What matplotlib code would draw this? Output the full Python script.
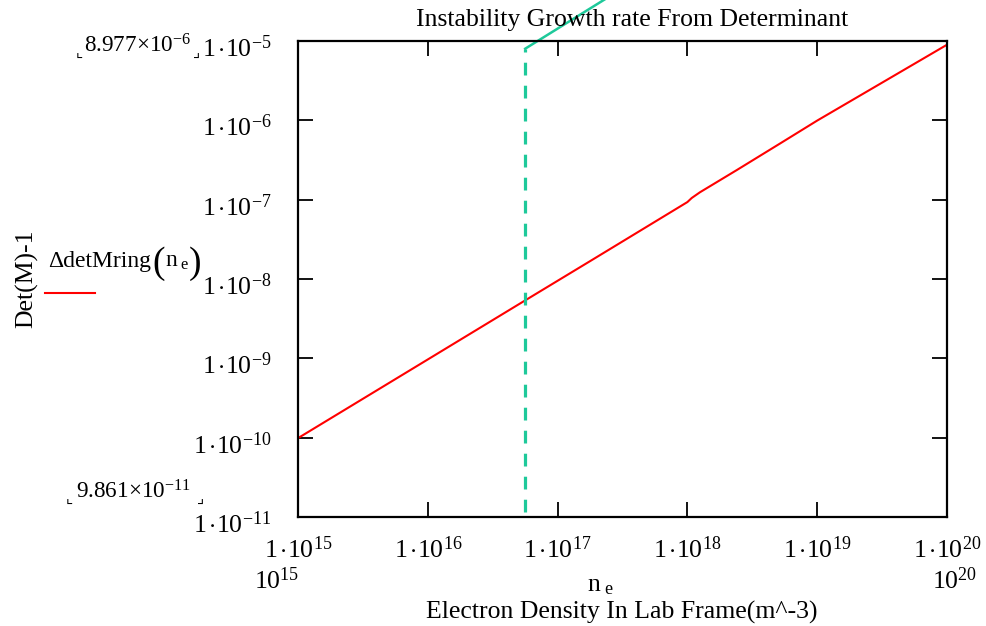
import matplotlib
matplotlib.use('Agg')
import matplotlib.pyplot as plt
import matplotlib.transforms as mtransforms

plt.rcParams['font.family'] = ['Liberation Serif', 'DejaVu Serif']
plt.rcParams['mathtext.fontset'] = 'custom'
plt.rcParams['mathtext.rm'] = 'Liberation Serif'
plt.rcParams['mathtext.it'] = 'Liberation Serif:italic'
plt.rcParams['mathtext.bf'] = 'Liberation Serif:bold'

# curve
n_e = [1e15, 1e16, 5.6e16, 1.78e17, 1e18, 1.08e18, 1.25e18, 2.4e18, 5.2e18, 1e19, 2.55e19, 1e20]
det_m = [9.861e-11, 9.68e-10, 5.35e-9, 1.68e-8, 9.33e-8, 1.05e-7, 1.24e-7, 2.36e-7,
         5.13e-7, 9.93e-7, 2.43e-6, 8.977e-6]

# marker trace (dashed vertical, then solid leaving the plot)
mark_x = [5.63e16, 5.63e16]
mark_y = [1.15e-11, 8.0e-6]
mark2_x = [5.63e16, 1e18]
mark2_y = [8.0e-6, 1.48e-4]

x_ticks = [1e15, 1e16, 1e17, 1e18, 1e19, 1e20]
x_labels = [r'$\mathrm{1\,{\cdot}10^{%d}}$' % e for e in range(15, 21)]
y_ticks = [1e-11, 1e-10, 1e-9, 1e-8, 1e-7, 1e-6, 1e-5]
y_labels = [r'$\mathrm{1\,{\cdot}10^{-%d}}$' % e for e in range(11, 4, -1)]

fs = 18.5
red = '#ff0000'
cyan = '#1ec99a'

fig = plt.figure(figsize=(9.86, 6.26), dpi=100)
ax = fig.add_axes([298/986, 1 - 517/626, 649/986, 476/626])

ax.plot(n_e, det_m, color=red, lw=1.5)
ax.plot(mark_x, mark_y, color=cyan, lw=2.3, dashes=(4, 3.2))
ax.plot(mark2_x, mark2_y, color=cyan, lw=1.8, clip_on=False)

ax.set_xscale('log')
ax.set_yscale('log')
ax.set_xlim(1e15, 1e20)
ax.set_ylim(1e-11, 1e-5)
ax.set_xticks(x_ticks, x_labels)
ax.set_yticks(y_ticks, y_labels)
ax.minorticks_off()
ax.tick_params(which='major', direction='in', length=11, width=1.3,
               top=True, right=True, labelsize=fs, color='black')
ax.tick_params(axis='x', pad=14)
ax.tick_params(axis='y', pad=19)
for s in ax.spines.values():
    s.set_linewidth(1.6)

shift = mtransforms.ScaledTranslation(0, -0.05, fig.dpi_scale_trans)
for lab in ax.get_yticklabels():
    lab.set_transform(lab.get_transform() + shift)

# Mathcad-style annotations
fig.text(632/986, 1 - 20/626, 'Instability Growth rate From Determinant',
         ha='center', va='center', fontsize=fs)
fig.text(622/986, 1 - 612/626, 'Electron Density In Lab Frame(m^-3)',
         ha='center', va='center', fontsize=fs)
fig.text(277/986, 1 - 581/626, r'$\mathrm{10^{15}}$', ha='center', va='center', fontsize=fs)
fig.text(955/986, 1 - 581/626, r'$\mathrm{10^{20}}$', ha='center', va='center', fontsize=fs)
fig.text(600/986, 1 - 586/626, r'$\mathrm{n}_{\mathrm{\ e}}$', ha='center', va='center', fontsize=fs)
fig.text(27/986, 1 - 279/626, 'Det(M)-1', rotation=90, ha='center', va='center', fontsize=fs)

# legend entry with tall parentheses
lfs = fs * 0.92
fig.text(48/986, 1 - 267/626, '\u0394detMring', ha='left', va='baseline', fontsize=lfs)
fig.text(152/986, 1 - 273/626, '(', ha='left', va='baseline', fontsize=lfs * 1.6)
fig.text(165/986, 1 - 267/626, r'$\mathrm{n}_{\mathrm{\ e}}$', ha='left', va='baseline', fontsize=lfs)
fig.text(189/986, 1 - 273/626, ')', ha='left', va='baseline', fontsize=lfs * 1.6)
fig.add_artist(plt.Line2D([45/986, 95/986], [1 - 293/626, 1 - 293/626], color=red, lw=1.5))

mfs = fs * 0.9
cfs = fs * 0.6
fig.text(76/986, 1 - 58/626, '\u231e', ha='left', va='baseline', fontsize=cfs,
         family=['DejaVu Sans'])
fig.text(84/986, 1 - 46/626, r'$\mathrm{8.977{\times}10^{-6}}$', ha='left', va='center', fontsize=mfs)
fig.text(193/986, 1 - 58/626, '\u231f', ha='left', va='baseline', fontsize=cfs,
         family=['DejaVu Sans'])
fig.text(66/986, 1 - 504/626, '\u231e', ha='left', va='baseline', fontsize=cfs,
         family=['DejaVu Sans'])
fig.text(76/986, 1 - 492/626, r'$\mathrm{9.861{\times}10^{-11}}$', ha='left', va='center', fontsize=mfs)
fig.text(197/986, 1 - 504/626, '\u231f', ha='left', va='baseline', fontsize=cfs,
         family=['DejaVu Sans'])

fig.savefig('out.png', dpi=100)
